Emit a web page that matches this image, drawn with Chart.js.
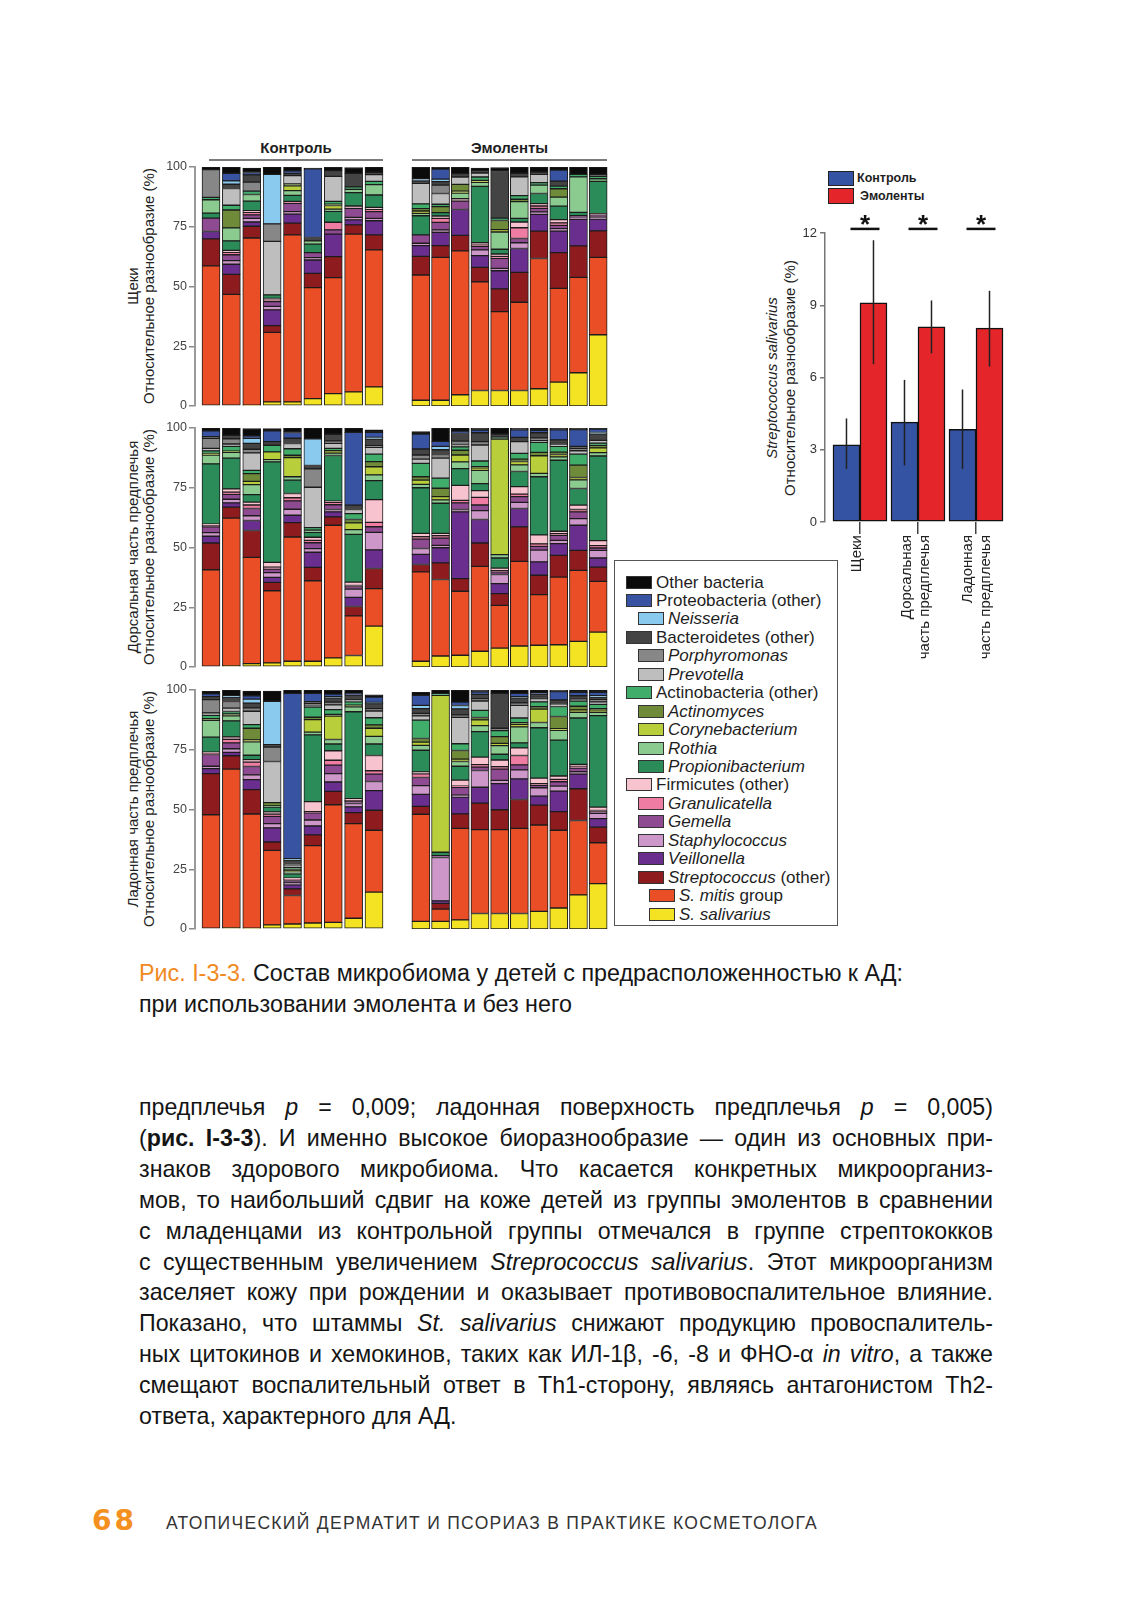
<!DOCTYPE html>
<html lang="ru">
<head>
<meta charset="utf-8">
<title>Рис. I-3-3</title>
<script src="https://cdn.jsdelivr.net/npm/chart.js@4.4.1/dist/chart.umd.min.js"></script>
<style>
  html, body { margin: 0; padding: 0; background: #fff; }
  #page {
    position: relative; width: 1132px; height: 1600px; overflow: hidden; background: #fff;
    font-family: "Liberation Sans", Arial, sans-serif; color: #1e1e1e;
  }
  canvas { position: absolute; }
  .grp-title {
    position: absolute; top: 138px; height: 21px; line-height: 20px; text-align: center;
    font-weight: bold; font-size: 15px; border-bottom: 2px solid #7a7a7a;
  }
  .ytitle {
    position: absolute; white-space: nowrap; text-align: center; font-size: 15px; line-height: 16px;
    transform: translate(-50%, -50%) rotate(-90deg); color: #222;
  }
  #legend {
    position: absolute; left: 614px; top: 560px; width: 222px; height: 364px;
    border: 1.5px solid #555;
  }
  .lg-row { position: absolute; height: 18px; line-height: 18px; font-size: 17px; white-space: nowrap; }
  .lg-sw { position: absolute; left: 0; top: 2px; width: 24px; height: 11px; border: 1.5px solid #333; }
  .lg-tx { position: absolute; left: 30px; top: 0; }
  .key-sw { position: absolute; left: 828px; width: 24px; border: 1px solid #222; }
  .key-tx { position: absolute; font-size: 12.5px; font-weight: bold; line-height: 16px; }
  #caption {
    position: absolute; left: 139px; top: 958px; font-size: 23.3px; line-height: 30.5px; color: #161616;
  }
  #caption .fig { color: #f08a1f; }
  #body {
    position: absolute; left: 139px; top: 1092px; width: 854px; font-size: 23.2px; line-height: 30.9px;
    color: #141414;
  }
  #body .j { text-align: justify; text-align-last: justify; }
  #folio {
    position: absolute; left: 92px; top: 1505px; line-height: 32px; font-size: 28px; font-weight: bold;
    font-family: "DejaVu Sans", sans-serif; color: #f39020; letter-spacing: 3px;
  }
  #running {
    position: absolute; left: 166px; top: 1511px; line-height: 24px; font-size: 17.5px; letter-spacing: 1.3px;
    color: #333;
  }
</style>
</head>
<body>
<div id="page">

  <div class="grp-title" style="left:209px;width:174px">Контроль</div>
  <div class="grp-title" style="left:412px;width:195px">Эмоленты</div>

  <div class="ytitle" style="left:141px;top:286px">Щеки<br>Относительное разнообразие (%)</div>
  <div class="ytitle" style="left:141px;top:547px">Дорсальная часть предплечья<br>Относительное разнообразие (%)</div>
  <div class="ytitle" style="left:141px;top:809px">Ладонная часть предплечья<br>Относительное разнообразие (%)</div>

  <canvas id="cheek-ctrl"  width="240" height="259" style="left:150px;top:157px"></canvas>
  <canvas id="cheek-emol"  width="197" height="259" style="left:411px;top:157px"></canvas>
  <canvas id="dorsal-ctrl" width="240" height="259" style="left:150px;top:418px"></canvas>
  <canvas id="dorsal-emol" width="197" height="259" style="left:411px;top:418px"></canvas>
  <canvas id="palm-ctrl"   width="240" height="259" style="left:150px;top:680px"></canvas>
  <canvas id="palm-emol"   width="197" height="259" style="left:411px;top:680px"></canvas>

  <div id="legend"></div>

  <div class="key-sw" style="top:171px;height:13px;background:#3453a3"></div>
  <div class="key-tx" style="left:857px;top:170px">Контроль</div>
  <div class="key-sw" style="top:188px;height:14px;background:#e4262a"></div>
  <div class="key-tx" style="left:860px;top:188px">Эмоленты</div>

  <div class="ytitle" style="left:781px;top:378px;line-height:18px"><i>Streptococcus salivarius</i><br>Относительное разнообразие (%)</div>
  <canvas id="salivarius" width="240" height="480" style="left:780px;top:200px"></canvas>

  <div id="caption">
    <span class="fig">Рис. I-3-3.</span> Состав микробиома у детей с предрасположенностью к АД:<br>
    при использовании эмолента и без него
  </div>

  <div id="body">
    <div class="j">предплечья <i>p</i> = 0,009; ладонная поверхность предплечья <i>p</i> = 0,005)</div>
    <div class="j">(<b>рис. I-3-3</b>). И именно высокое биоразнообразие — один из основных при-</div>
    <div class="j">знаков здорового микробиома. Что касается конкретных микроорганиз-</div>
    <div class="j">мов, то наибольший сдвиг на коже детей из группы эмолентов в сравнении</div>
    <div class="j">с младенцами из контрольной группы отмечался в группе стрептококков</div>
    <div class="j">с существенным увеличением <i>Streprococcus salivarius</i>. Этот микроорганизм</div>
    <div class="j">заселяет кожу при рождении и оказывает противовоспалительное влияние.</div>
    <div class="j">Показано, что штаммы <i>St. salivarius</i> снижают продукцию провоспалитель-</div>
    <div class="j">ных цитокинов и хемокинов, таких как ИЛ-1β, -6, -8 и ФНО-α <i>in vitro</i>, а также</div>
    <div class="j">смещают воспалительный ответ в Th1-сторону, являясь антагонистом Th2-</div>
    <div>ответа, характерного для АД.</div>
  </div>

  <div id="folio">68</div>
  <div id="running">АТОПИЧЕСКИЙ ДЕРМАТИТ И ПСОРИАЗ В ПРАКТИКЕ КОСМЕТОЛОГА</div>
</div>

<script>
// ------------------------------------------------------------
// Taxa, bottom of the stack first (legend shows them reversed)
// ------------------------------------------------------------
const TAXA = [
  'S. salivarius', 'S. mitis group', 'Streptococcus (other)', 'Veillonella', 'Staphylococcus',
  'Gemella', 'Granulicatella', 'Firmicutes (other)', 'Propionibacterium', 'Rothia',
  'Corynebacterium', 'Actinomyces', 'Actinobacteria (other)', 'Prevotella', 'Porphyromonas',
  'Bacteroidetes (other)', 'Neisseria', 'Proteobacteria (other)', 'Other bacteria',
];

const TAXA_COLORS = [
  '#f3e323', '#e94e26', '#8e1b1e', '#6a2f8e', '#cd97c9',
  '#8f4b91', '#ee7ca3', '#f7c3cf', '#2b8b59', '#8bcb8f',
  '#b8cf3b', '#6f8b3a', '#40ad6b', '#bebebe', '#878787',
  '#444444', '#8bcaef', '#3953a3', '#0b0b0b',
];

// Relative abundance (%), one row per infant, columns in TAXA order
const CHEEK_CONTROL = [
  [0,   58.6, 11.3, 3.1, 0,   5.6, 0,   0,   2.1, 5.6, 0,   0,   1.0, 0,    11.6, 0,   0,    0,    1.1],
  [0,   46.7, 8.4,  4.2, 1.5, 2.5, 1.0, 0.8, 4.0, 5.4, 0,   7.5, 2.0, 7.0,  0,    1.8, 1.4,  3.1,  2.7],
  [0.3, 70.0, 4.9,  1.8, 1.5, 1.5, 1.0, 0.7, 4.0, 2.8, 0,   0,   1.4, 0,    3.8,  3.0, 0,    1.0,  1.8],
  [1.7, 29.1, 2.8,  6.6, 1.5, 2.0, 0.7, 0.6, 1.5, 0,   0,   0,   0,   22.4, 7.3,  0,   20.7, 0,    3.2],
  [1.7, 69.9, 4.9,  3.8, 1.0, 3.5, 0.8, 0,   2.5, 2.0, 2.0, 0.8, 0,   3.5,  0,    1.0, 0,    1.0,  1.5],
  [3.1, 46.4, 6.0,  5.6, 1.0, 2.1, 0,   0,   3.5, 1.4, 0,   0,   0,   0,    0,    1.4, 0,    28.7, 0.4],
  [5.2, 48.5, 8.8,  9.4, 0,   1.8, 3.2, 0,   4.5, 1.0, 1.5, 0.5, 1.2, 10.5, 0,    2.4, 0,    0,    1.4],
  [5.9, 66.0, 3.9,  2.1, 1.0, 3.8, 0,   1.0, 5.6, 1.4, 0,   0,   1.0, 0,    0,    5.6, 0,    0,    2.5],
  [8.0, 57.3, 6.3,  5.9, 1.0, 2.8, 1.0, 0.8, 5.2, 4.3, 0,   0,   1.4, 2.8,  0,    1.0, 0,    0,    2.2],
];

const CHEEK_EMOLLIENT = [
  [2.4,  52.4, 7.8,  4.5,  1.0, 3.5, 0,   0,   8.0,  1.0,  1.0, 1.0, 2.0, 8.6, 0,   1.0,  0.8, 0,   4.9],
  [2.4,  59.8, 4.9,  5.6,  1.0, 3.1, 1.7, 1.0, 1.4,  0,    0,   2.5, 1.0, 4.5, 3.5, 1.5,  1.0, 4.2, 1.0],
  [4.7,  60.2, 6.5,  10.8, 0,   3.5, 0,   1.0, 0,    2.4,  0.8, 2.8, 0,   3.1, 0,   1.4,  0,   0,   2.8],
  [6.5,  45.5, 6.0,  4.9,  2.4, 1.5, 0.5, 1.0, 23.6, 1.7,  0.8, 0,   1.4, 1.7, 0,   1.0,  0,   0,   1.0],
  [6.5,  33.0, 9.5,  7.6,  1.0, 4.2, 0.8, 1.0, 2.0,  7.2,  1.0, 3.8, 1.0, 0,   0,   19.5, 0,   0,   1.7],
  [6.5,  36.9, 12.5, 10.0, 2.4, 1.8, 4.5, 2.4, 1.5,  7.0,  0,   1.0, 1.5, 7.9, 0,   1.5,  0,   0,   2.6],
  [7.2,  54.5, 11.5, 7.0,  1.0, 1.5, 1.0, 1.0, 4.2,  3.5,  0,   0,   1.0, 3.5, 0,   1.0,  0,   0,   2.1],
  [10.0, 39.2, 15.0, 9.0,  1.0, 1.4, 1.0, 1.4, 5.6,  3.8,  0,   3.5, 1.1, 0,   0,   2.1,  0,   4.6, 1.3],
  [13.9, 39.9, 13.2, 11.1, 1.0, 0.5, 0,   0,   1.4,  14.9, 0,   0,   1.0, 0,   0,   0,    0,   0,   3.1],
  [29.8, 32.4, 11.1, 4.9,  0.8, 1.0, 0,   0.5, 13.5, 1.1,  0,   0,   1.0, 0,   0,   0.8,  0,   0,   3.1],
];

const DORSAL_CONTROL = [
  [0,    40.7, 11.2, 2.8, 1.5, 2.5, 0.6, 0.5, 25.2, 3.7, 0.7, 0,   1.0, 1.1,  4.2, 0.7, 0,    2.4,  1.2],
  [0.5,  61.8, 4.6,  1.8, 1.5, 2.0, 1.0, 1.3, 12.9, 2.4, 0.5, 0,   2.0, 1.0,  2.2, 1.4, 0,    0,    3.1],
  [1.4,  44.5, 11.2, 4.2, 2.0, 3.0, 1.5, 1.2, 3.1,  4.2, 1.4, 3.2, 1.4, 7.3,  1.5, 2.5, 2.1,  1.0,  3.1],
  [1.7,  30.2, 3.5,  2.1, 2.0, 1.5, 0.8, 2.0, 42.0, 1.0, 3.2, 0,   2.8, 0,    0,   1.5, 0,    4.5,  1.0],
  [2.4,  52.0, 6.0,  3.1, 2.5, 3.5, 1.3, 1.8, 5.6,  1.4, 8.0, 1.0, 2.7, 2.2,  0,   2.2, 0,    2.4,  1.9],
  [2.4,  33.7, 5.6,  6.3, 1.5, 2.5, 1.0, 1.3, 2.0,  1.0, 0,   0,   1.0, 16.9, 7.7, 1.4, 11.2, 0,    4.5],
  [3.8,  55.5, 3.5,  2.1, 1.0, 2.0, 1.0, 0.5, 19.1, 1.0, 1.0, 0,   1.0, 2.1,  1.0, 2.8, 0,    0,    2.6],
  [4.8,  16.6, 3.9,  3.8, 3.5, 1.0, 0.5, 1.4, 20.0, 2.0, 2.8, 1.4, 2.5, 1.7,  0,   1.8, 0,    30.5, 1.8],
  [17.1, 15.7, 8.4,  7.8, 7.3, 2.4, 1.8, 9.5, 8.0,  2.4, 3.4, 2.1, 3.2, 2.8,  0.7, 2.8, 0.7,  2.1,  1.0],
];

const DORSAL_EMOLLIENT = [
  [2.4,  37.4, 3.1,  4.2,  2.5, 3.9, 1.0, 1.4, 19.1, 1.4, 1.8,  1.4, 5.6, 1.8, 1.7, 2.5, 0,   6.3, 1.0],
  [4.6,  32.0, 7.0,  6.3,  1.0, 3.0, 1.0, 1.0, 12.6, 1.4, 1.4,  3.5, 4.2, 8.4, 1.5, 2.0, 1.4, 2.1, 5.6],
  [4.9,  26.8, 5.3,  27.9, 1.0, 2.8, 1.0, 6.3, 7.0,  2.8, 2.9,  2.0, 1.4, 1.0, 1.4, 3.2, 0,   1.0, 1.3],
  [6.6,  35.5, 9.8,  9.8,  3.7, 2.4, 3.2, 2.8, 2.9,  5.6, 1.0,  0.5, 2.4, 6.7, 1.4, 3.7, 0,   1.1, 0.9],
  [7.9,  17.9, 4.9,  4.2,  3.8, 1.1, 0.5, 1.1, 4.2,  1.4, 48.4, 0,   0.8, 0,   0,   1.3, 0,   0,   2.5],
  [8.8,  35.4, 14.4, 7.7,  2.6, 2.4, 1.0, 3.2, 6.3,  2.8, 1.4,  1.0, 2.4, 4.9, 0,   1.8, 0,   3.1, 0.7],
  [9.1,  21.2, 8.1,  5.6,  4.9, 1.6, 1.0, 3.8, 24.3, 1.4, 7.4,  1.4, 4.2, 0.7, 1.2, 2.1, 0,   1.0, 1.0],
  [9.3,  28.3, 9.1,  4.9,  1.4, 2.1, 0.7, 1.0, 29.7, 1.4, 1.0,  1.0, 2.4, 0.7, 0.6, 1.4, 0,   4.2, 0.8],
  [10.7, 29.7, 8.4,  10.5, 2.8, 2.8, 1.0, 1.8, 7.0,  3.6, 1.0,  5.2, 4.6, 1.4, 1.0, 0.8, 0,   7.0, 0.6],
  [14.6, 21.2, 6.0,  3.8,  3.2, 1.0, 1.0, 2.1, 35.4, 1.4, 2.0,  1.0, 1.0, 1.1, 0,   2.8, 0.5, 1.4, 1.0],
];

const PALM_CONTROL = [
  [0,    47.8, 17.2, 2.1, 1.0, 4.9, 0.5, 0.5, 6.3,  7.0, 0,   0.7, 1.4, 1.0,  5.6, 1.2, 0,    1.2,  1.0],
  [0.5,  66.4, 5.6,  1.4, 1.5, 2.5, 1.5, 1.0, 6.7,  2.1, 0,   0.8, 1.0, 1.4,  2.8, 1.8, 0.6,  0,    2.4],
  [0.3,  47.8, 10.2, 4.2, 2.0, 3.5, 1.8, 1.1, 1.8,  5.6, 0.8, 4.9, 1.5, 5.6,  1.4, 2.0, 1.7,  1.4,  2.0],
  [1.7,  31.2, 3.5,  5.9, 1.8, 3.0, 1.0, 0.9, 2.0,  0.5, 0,   1.4, 0,   17.2, 6.0, 1.0, 18.2, 0,    4.2],
  [2.1,  11.9, 2.8,  1.7, 0.8, 1.0, 0.5, 0.5, 1.8,  0.8, 0.5, 0.6, 0.8, 1.0,  0.6, 1.4, 0.6,  69.2, 1.4],
  [2.5,  32.4, 4.5,  3.7, 2.5, 3.0, 0.5, 4.2, 27.9, 1.2, 5.2, 1.0, 4.3, 0.8,  0.7, 0.7, 0,    3.5,  1.4],
  [2.8,  49.2, 5.6,  3.9, 3.5, 3.6, 2.0, 4.0, 2.8,  1.9, 9.8, 0.7, 2.0, 2.0,  1.1, 1.8, 0.5,  1.1,  1.6],
  [4.5,  39.6, 4.6,  2.4, 1.4, 0.8, 0.5, 0.7, 36.4, 2.1, 0,   0.7, 1.4, 0.7,  0,   2.1, 0,    0.7,  1.4],
  [15.4, 25.9, 8.4,  8.2, 3.8, 3.1, 1.4, 6.4, 4.8,  3.2, 3.4, 1.4, 3.0, 2.8,  1.0, 2.1, 0.5,  2.2,  1.0],
];

const PALM_EMOLLIENT = [
  [3.2,  44.8, 3.3,  5.0,  3.7,  3.4, 1.5, 0.8, 9.1,  2.0, 1.4,  1.5, 7.7, 1.8,  1.0, 2.0,  1.4, 4.2, 1.2],
  [3.2,  5.1,  2.4,  1.1,  18.1, 0.8, 0,   0,   1.4,  0,   65.7, 0,   0.8, 0,    0,   0,    0,   0,   1.4],
  [3.8,  38.3, 6.1,  7.0,  0.8,  3.3, 0.5, 2.5, 5.8,  2.0, 1.0,  3.6, 2.8, 11.1, 1.0, 2.5,  1.4, 1.4, 5.1],
  [6.5,  35.1, 11.1, 6.6,  7.0,  1.4, 1.1, 3.1, 10.7, 2.5, 2.4,  1.0, 3.0, 3.9,  1.0, 1.8,  0,   1.0, 0.8],
  [6.5,  35.1, 8.3,  10.9, 1.4,  4.7, 1.0, 2.8, 2.4,  3.6, 1.0,  2.8, 2.5, 0,    1.0, 14.6, 0,   0,   1.4],
  [6.5,  35.6, 12.1, 8.6,  3.8,  2.1, 3.9, 3.2, 2.1,  6.7, 1.0,  0.7, 2.0, 5.3,  1.0, 2.1,  0.5, 1.4, 1.4],
  [7.4,  36.1, 8.3,  3.8,  3.5,  1.0, 0.7, 2.3, 21.1, 2.2, 5.6,  1.0, 2.0, 1.4,  0.5, 1.4,  0,   0.5, 1.2],
  [8.8,  32.5, 7.8,  8.6,  2.1,  1.8, 1.0, 1.4, 15.0, 4.1, 0.7,  5.1, 4.2, 0.7,  0.6, 1.4,  0,   3.5, 0.7],
  [14.3, 31.1, 13.3, 6.1,  1.0,  1.5, 0.8, 0.8, 19.4, 2.4, 1.0,  1.5, 2.2, 0.8,  0,   1.4,  0,   1.4, 1.0],
  [19.0, 17.1, 6.5,  3.6,  2.2,  0.7, 0.5, 1.4, 38.3, 1.4, 1.0,  0.5, 1.8, 1.0,  1.0, 1.0,  0.6, 1.4, 1.0],
];

// S. salivarius, mean and error range (%)
const SITES              = [['Щеки'], ['Дорсальная', 'часть предплечья'], ['Ладонная', 'часть предплечья']];
const SAL_CONTROL        = [3.2, 4.15, 3.85];
const SAL_CONTROL_LOW    = [2.2, 2.35, 2.2];
const SAL_CONTROL_HIGH   = [4.3, 5.9, 5.5];
const SAL_EMOLLIENT      = [9.1, 8.1, 8.05];
const SAL_EMOLLIENT_LOW  = [6.55, 7.0, 6.45];
const SAL_EMOLLIENT_HIGH = [11.7, 9.2, 9.6];
const SIG_MARKS          = ['*', '*', '*'];

// Legend rows, top to bottom: [taxon index, indent level, markup]
const LEGEND_ROWS = [
  [18, 0, 'Other bacteria'],
  [17, 0, 'Proteobacteria (other)'],
  [16, 1, '<i>Neisseria</i>'],
  [15, 0, 'Bacteroidetes (other)'],
  [14, 1, '<i>Porphyromonas</i>'],
  [13, 1, '<i>Prevotella</i>'],
  [12, 0, 'Actinobacteria (other)'],
  [11, 1, '<i>Actinomyces</i>'],
  [10, 1, '<i>Corynebacterium</i>'],
  [9,  1, '<i>Rothia</i>'],
  [8,  1, '<i>Propionibacterium</i>'],
  [7,  0, 'Firmicutes (other)'],
  [6,  1, '<i>Granulicatella</i>'],
  [5,  1, '<i>Gemella</i>'],
  [4,  1, '<i>Staphylococcus</i>'],
  [3,  1, '<i>Veillonella</i>'],
  [2,  1, '<i>Streptococcus</i> (other)'],
  [1,  2, '<i>S. mitis</i> group'],
  [0,  2, '<i>S. salivarius</i>'],
];

Chart.defaults.font.family = '"Liberation Sans", Arial, sans-serif';
Chart.defaults.color = '#333';
Chart.defaults.animation = false;

// ---- stacked composition panels ----

function stackedPanel(id, rows, withAxis) {
  const n   = rows.length;
  const pad = withAxis ? 0.785 : 0.5;
  const datasets = TAXA.map((name, k) => ({
    label:           name,
    data:            rows.map((r, i) => ({ x: i, y: r[k] || null })),
    backgroundColor: TAXA_COLORS[k],
    borderColor:     '#1c1c1c',
    borderWidth:     1,
    borderSkipped:   false,
    barThickness:    18,
  }));

  const y = {
    stacked: true, min: 0, max: 100, display: withAxis,
    ticks:  { stepSize: 25, padding: 2, color: '#444', font: { size: 12.5 } },
    grid:   { drawOnChartArea: false, tickLength: 6, color: '#8a8a8a', lineWidth: 1.5 },
    border: { color: '#9a9a9a', width: 2 },
  };
  if (withAxis) y.afterFit = s => { s.width = 45; };

  new Chart(document.getElementById(id), {
    type: 'bar',
    data: { datasets },
    options: {
      responsive: false,
      layout:  { padding: { top: 10, bottom: 10, left: 0, right: 0 } },
      plugins: { legend: { display: false }, tooltip: { enabled: false } },
      scales: {
        x: {
          type: 'linear', stacked: true, display: false, offset: false,
          min: -pad, max: n - 1 + pad,
        },
        y,
      },
    },
  });
}

stackedPanel('cheek-ctrl',  CHEEK_CONTROL,    true);
stackedPanel('cheek-emol',  CHEEK_EMOLLIENT,  false);
stackedPanel('dorsal-ctrl', DORSAL_CONTROL,   true);
stackedPanel('dorsal-emol', DORSAL_EMOLLIENT, false);
stackedPanel('palm-ctrl',   PALM_CONTROL,     true);
stackedPanel('palm-emol',   PALM_EMOLLIENT,   false);

// ---- legend box ----

const legendBox = document.getElementById('legend');
const INDENT = [11, 23, 34];
LEGEND_ROWS.forEach(([k, level, html], i) => {
  const row = document.createElement('div');
  row.className = 'lg-row';
  row.style.left = INDENT[level] + 'px';
  row.style.top  = (583 + i * 18.45 - 9 - 561.5) + 'px';
  row.innerHTML  = `<span class="lg-sw" style="background:${TAXA_COLORS[k]}"></span><span class="lg-tx">${html}</span>`;
  legendBox.appendChild(row);
});

// ---- S. salivarius bar chart ----

const errorBars = {
  id: 'errorBars',
  afterDatasetsDraw(chart) {
    const { ctx } = chart;
    const y = chart.scales.y;
    chart.data.datasets.forEach((ds, di) => {
      chart.getDatasetMeta(di).data.forEach((bar, i) => {
        ctx.save();
        ctx.strokeStyle = '#222';
        ctx.lineWidth = 1.5;
        ctx.beginPath();
        ctx.moveTo(bar.x, y.getPixelForValue(ds.errLow[i]));
        ctx.lineTo(bar.x, y.getPixelForValue(ds.errHigh[i]));
        ctx.stroke();
        ctx.restore();
      });
    });
  },
};

const sigMarks = {
  id: 'sigMarks',
  afterDatasetsDraw(chart) {
    const { ctx } = chart;
    const yLine = chart.scales.y.getPixelForValue(12.17);
    const ctrl  = chart.getDatasetMeta(0).data;
    const emol  = chart.getDatasetMeta(1).data;
    ctx.save();
    ctx.strokeStyle = '#111';
    ctx.fillStyle   = '#111';
    ctx.lineWidth   = 2.5;
    ctx.font        = 'bold 26px "Liberation Sans", Arial, sans-serif';
    ctx.textAlign   = 'center';
    SIG_MARKS.forEach((mark, i) => {
      const x0 = ctrl[i].x + 4;
      const x1 = emol[i].x + 6;
      ctx.beginPath();
      ctx.moveTo(x0, yLine);
      ctx.lineTo(x1, yLine);
      ctx.stroke();
      ctx.fillText(mark, (x0 + x1) / 2, yLine + 4);
    });
    ctx.restore();
  },
};

// label lines sit a little left of the group centre, tick marks stay on it
const LABEL_AT = [-0.05, 0.8, 1.86];
const X_RANGE  = { min: -0.603, max: 2.586 };

new Chart(document.getElementById('salivarius'), {
  type: 'bar',
  data: {
    datasets: [
      {
        label:           'Контроль',
        data:            SAL_CONTROL.map((v, i) => ({ x: i, y: v })),
        errLow:          SAL_CONTROL_LOW,
        errHigh:         SAL_CONTROL_HIGH,
        backgroundColor: '#3453a3',
        borderColor:     '#111',
        borderWidth:     1.5,
        borderSkipped:   false,
        barThickness:    27,
      },
      {
        label:           'Эмоленты',
        data:            SAL_EMOLLIENT.map((v, i) => ({ x: i, y: v })),
        errLow:          SAL_EMOLLIENT_LOW,
        errHigh:         SAL_EMOLLIENT_HIGH,
        backgroundColor: '#e4262a',
        borderColor:     '#111',
        borderWidth:     1.5,
        borderSkipped:   false,
        barThickness:    27,
      },
    ],
  },
  options: {
    responsive: false,
    layout:  { padding: { top: 33, right: 10, left: 0, bottom: 0 } },
    plugins: { legend: { display: false }, tooltip: { enabled: false } },
    scales: {
      x: {
        type: 'linear', offset: false, weight: 1, ...X_RANGE,
        afterBuildTicks: s => { s.ticks = LABEL_AT.map(v => ({ value: v })); },
        afterFit: s => { s.height = 146; },
        ticks:  {
          autoSkip: false, minRotation: 90, maxRotation: 90, padding: 1,
          color: '#222', font: { size: 15 },
          callback: (v, i) => SITES[i],
        },
        grid:   { offset: false, drawOnChartArea: false, drawTicks: false },
        border: { display: false },
      },
      xTicks: {
        axis: 'x', type: 'linear', position: 'bottom', offset: false, weight: 0, ...X_RANGE,
        afterBuildTicks: s => { s.ticks = SITES.map((_, i) => ({ value: i })); },
        afterFit: s => { s.height = 12; },
        ticks:  { display: false },
        grid:   { offset: false, drawOnChartArea: false, tickLength: 12, color: '#444', lineWidth: 1.5 },
        border: { display: false },
      },
      y: {
        min: 0, max: 12,
        afterFit: s => { s.width = 45; },
        ticks:  { stepSize: 3, padding: 3, color: '#333', font: { size: 13 } },
        grid:   { drawOnChartArea: false, tickLength: 5, color: '#777', lineWidth: 1.5 },
        border: { color: '#777', width: 1.5 },
      },
    },
  },
  plugins: [errorBars, sigMarks],
});
</script>
</body>
</html>
